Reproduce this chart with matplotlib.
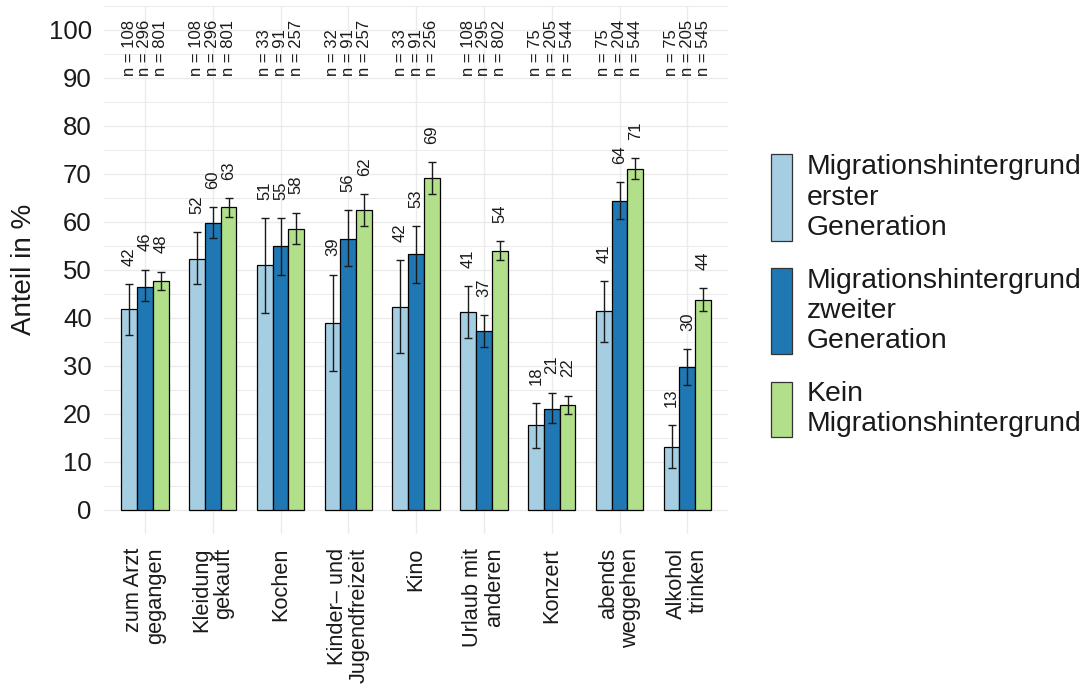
import numpy as np
import matplotlib
matplotlib.use("Agg")
import matplotlib.pyplot as plt
from matplotlib.patches import Rectangle

plt.rcParams['font.family'] = ['Liberation Sans', 'DejaVu Sans']

categories = ["zum Arzt\ngegangen", "Kleidung\ngekauft", "Kochen",
              "Kinder\u2013 und\nJugendfreizeit", "Kino", "Urlaub mit\nanderen",
              "Konzert", "abends\nweggehen", "Alkohol\ntrinken"]
series = ["Migrationshintergrund\nerster\nGeneration",
          "Migrationshintergrund\nzweiter\nGeneration",
          "Kein\nMigrationshintergrund"]
colors = ["#a6cee3", "#1f78b4", "#b2df8a"]

erste = [41.8, 52.3, 51.0, 39.0, 42.3, 41.3, 17.6, 41.4, 13.2]
erste_lo = [36.5, 47.0, 41.1, 29.0, 32.6, 35.8, 12.9, 34.9, 8.8]
erste_hi = [47.0, 57.9, 60.8, 49.0, 52.0, 46.6, 22.2, 47.7, 17.7]

zweite = [46.4, 59.8, 54.9, 56.4, 53.2, 37.2, 21.1, 64.4, 29.8]
zweite_lo = [43.4, 56.6, 48.9, 50.7, 47.2, 34.0, 18.0, 60.5, 26.0]
zweite_hi = [50.0, 63.0, 60.8, 62.4, 59.1, 40.6, 24.4, 68.2, 33.5]

kein = [47.7, 63.0, 58.4, 62.4, 69.0, 53.9, 21.8, 71.0, 43.8]
kein_lo = [45.8, 61.0, 55.3, 59.1, 65.7, 52.0, 20.0, 68.8, 41.5]
kein_hi = [49.6, 64.9, 61.9, 65.8, 72.4, 55.9, 23.8, 73.2, 46.1]

n_erste = [108, 108, 33, 32, 33, 108, 75, 75, 75]
n_zweite = [296, 296, 91, 91, 91, 295, 205, 204, 205]
n_kein = [801, 801, 257, 257, 256, 802, 544, 544, 545]

W, H = 1084, 684
fig = plt.figure(figsize=(W / 100, H / 100), dpi=100)
ax = fig.add_axes([104.3 / W, 1 - 534 / H, (728 - 104.3) / W, (534 - 5.5) / H])

x = np.arange(1, len(categories) + 1)
bw = 0.7 / 3
groups = [(erste, erste_lo, erste_hi, n_erste),
          (zweite, zweite_lo, zweite_hi, n_zweite),
          (kein, kein_lo, kein_hi, n_kein)]

for i, (vals, lo, hi, ns) in enumerate(groups):
    xs = x + (i - 1) * bw
    vals = np.array(vals); lo = np.array(lo); hi = np.array(hi)
    ax.bar(xs, vals, width=bw, color=colors[i], edgecolor="black",
           linewidth=0.9, zorder=3)
    ax.errorbar(xs, vals, yerr=[vals - lo, hi - vals], fmt='none',
                ecolor="#1a1a1a", elinewidth=1.0, capsize=2.9, capthick=1.0,
                zorder=4)
    for xx, v, h in zip(xs, vals, hi):
        ax.text(xx, h + 3.8, f"{int(round(v))}", rotation=90, ha='center',
                va='bottom', fontsize=12, color="#1a1a1a", zorder=5)
    for xx, nn in zip(xs, ns):
        ax.text(xx, 90.3, f"n = {nn}", rotation=90, ha='center',
                va='bottom', fontsize=12, color="#1a1a1a", zorder=5)

ax.set_xlim(0.4, len(categories) + 0.6)
ax.set_ylim(-5, 105)
ax.set_yticks(np.arange(0, 101, 10))
ax.set_yticks(np.arange(-5, 106, 10), minor=True)
ax.set_xticks(x)
ax.set_xticklabels(categories, rotation=90, ha='center', va='top',
                   multialignment='right', linespacing=1.08, fontsize=15.7,
                   color="#1a1a1a")
ax.tick_params(axis='x', length=0, pad=10)
ax.tick_params(axis='y', which='both', length=0, pad=9, labelsize=18.5,
               labelcolor="#1a1a1a")
ax.grid(True, which='major', color="#ebebeb", linewidth=1.0, zorder=0)
ax.grid(True, which='minor', axis='y', color="#ebebeb", linewidth=0.7, zorder=0)
ax.set_axisbelow(True)
for s in ax.spines.values():
    s.set_visible(False)

fig.text(24 / W, 1 - 269 / H, "Anteil in %", rotation=90, ha='center',
         va='center', fontsize=20, color="#1a1a1a")

# legend
boxes = [(154.3, 241.0), (268.3, 354.0), (381.7, 436.7)]
for (top, bot), lab, col in zip(boxes, series, colors):
    fig.patches.append(Rectangle((770.7 / W, 1 - bot / H), 21 / W, (bot - top) / H,
                                 transform=fig.transFigure, facecolor=col,
                                 edgecolor="#333333", linewidth=0.9))
    fig.text(807 / W, 1 - (top + bot) / 2 / H, lab, ha='left', va='center',
             fontsize=20.4, linespacing=1.21, color="#1a1a1a")

fig.savefig("out.png", dpi=100)
